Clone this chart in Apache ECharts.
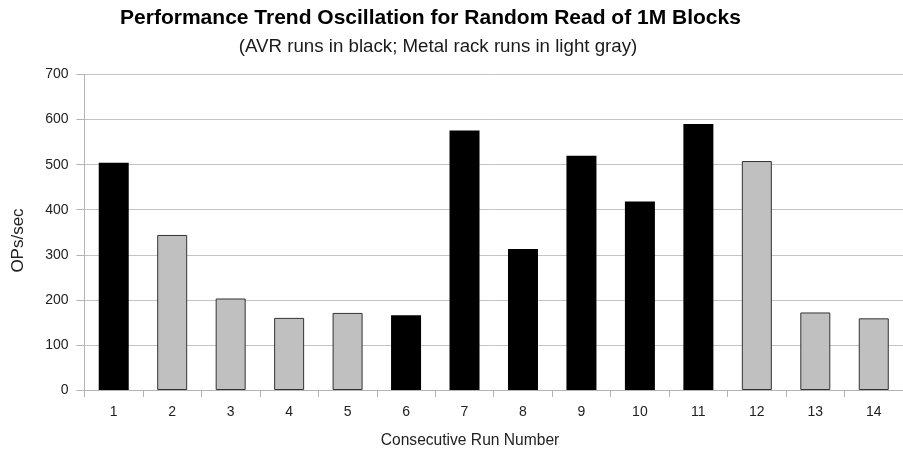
<!DOCTYPE html>
<html>
<head>
<meta charset="utf-8">
<script src="https://cdn.jsdelivr.net/npm/echarts@6/dist/echarts.min.js"></script>
<style>html,body{margin:0;padding:0;background:#fff}#c{width:903px;height:449px}</style>
</head>
<body>
<div id="c"></div>
<script>
var categories = ['1','2','3','4','5','6','7','8','9','10','11','12','13','14'];
var opsPerSec = [504, 344, 203, 160, 171, 166, 576, 313, 520, 418, 590, 508, 172, 159];
var runType = ['AVR','Metal','Metal','Metal','Metal','AVR','AVR','AVR','AVR','AVR','AVR','Metal','Metal','Metal'];
var yTicks = [0, 100, 200, 300, 400, 500, 600, 700];
var titleText = 'Performance Trend Oscillation for Random Read of 1M Blocks';
var subtitleText = '(AVR runs in black; Metal rack runs in light gray)';
var xName = 'Consecutive Run Number';
var yName = 'OPs/sec';

var FONT = '"Liberation Sans", Arial, sans-serif';
var chart = echarts.init(document.getElementById('c'), null, {renderer: 'canvas'});
var barData = opsPerSec.map(function (v, i) {
  var avr = runType[i] === 'AVR';
  return {
    value: v,
    itemStyle: avr ? {color: '#000000', borderColor: '#000000', borderWidth: 0}
                   : {color: '#c0c0c0', borderColor: '#333333', borderWidth: 1}
  };
});
chart.setOption({
  animation: false,
  backgroundColor: '#ffffff',
  grid: {left: 84.5, right: -8, top: 74.5, bottom: 59, containLabel: false},
  xAxis: {
    type: 'category',
    data: categories,
    boundaryGap: true,
    axisLine: {show: true, lineStyle: {color: '#b3b3b3', width: 1}},
    axisTick: {show: true, alignWithLabel: false, length: 7, lineStyle: {color: '#b3b3b3'}},
    axisLabel: {color: '#222', fontFamily: FONT, fontSize: 14, margin: 15},
    splitLine: {show: false}
  },
  yAxis: {
    type: 'value',
    min: yTicks[0],
    max: yTicks[yTicks.length - 1],
    interval: yTicks[1] - yTicks[0],
    axisLine: {show: true, lineStyle: {color: '#b3b3b3', width: 1}},
    axisTick: {show: true, inside: false, length: 8, lineStyle: {color: '#b3b3b3'}},
    axisLabel: {color: '#222', fontFamily: FONT, fontSize: 14, margin: 16},
    splitLine: {show: true, lineStyle: {color: '#c4c4c4', width: 1}}
  },
  series: [{
    type: 'bar',
    data: barData,
    barWidth: 30
  }],
  graphic: [
    {type: 'text', x: 430.5, y: 18.7, style: {text: titleText, fill: '#000', font: 'bold 21px ' + FONT, textAlign: 'center', textVerticalAlign: 'middle'}},
    {type: 'text', x: 438, y: 47, style: {text: subtitleText, fill: '#1a1a1a', font: '18.7px ' + FONT, textAlign: 'center', textVerticalAlign: 'middle'}},
    {type: 'text', x: 470, y: 441, style: {text: xName, fill: '#222', font: '15.6px ' + FONT, textAlign: 'center', textVerticalAlign: 'middle'}},
    {type: 'text', x: 18, y: 240.5, rotation: Math.PI / 2, style: {text: yName, fill: '#222', font: '17px ' + FONT, textAlign: 'center', textVerticalAlign: 'middle'}}
  ]
});
</script>
</body>
</html>
